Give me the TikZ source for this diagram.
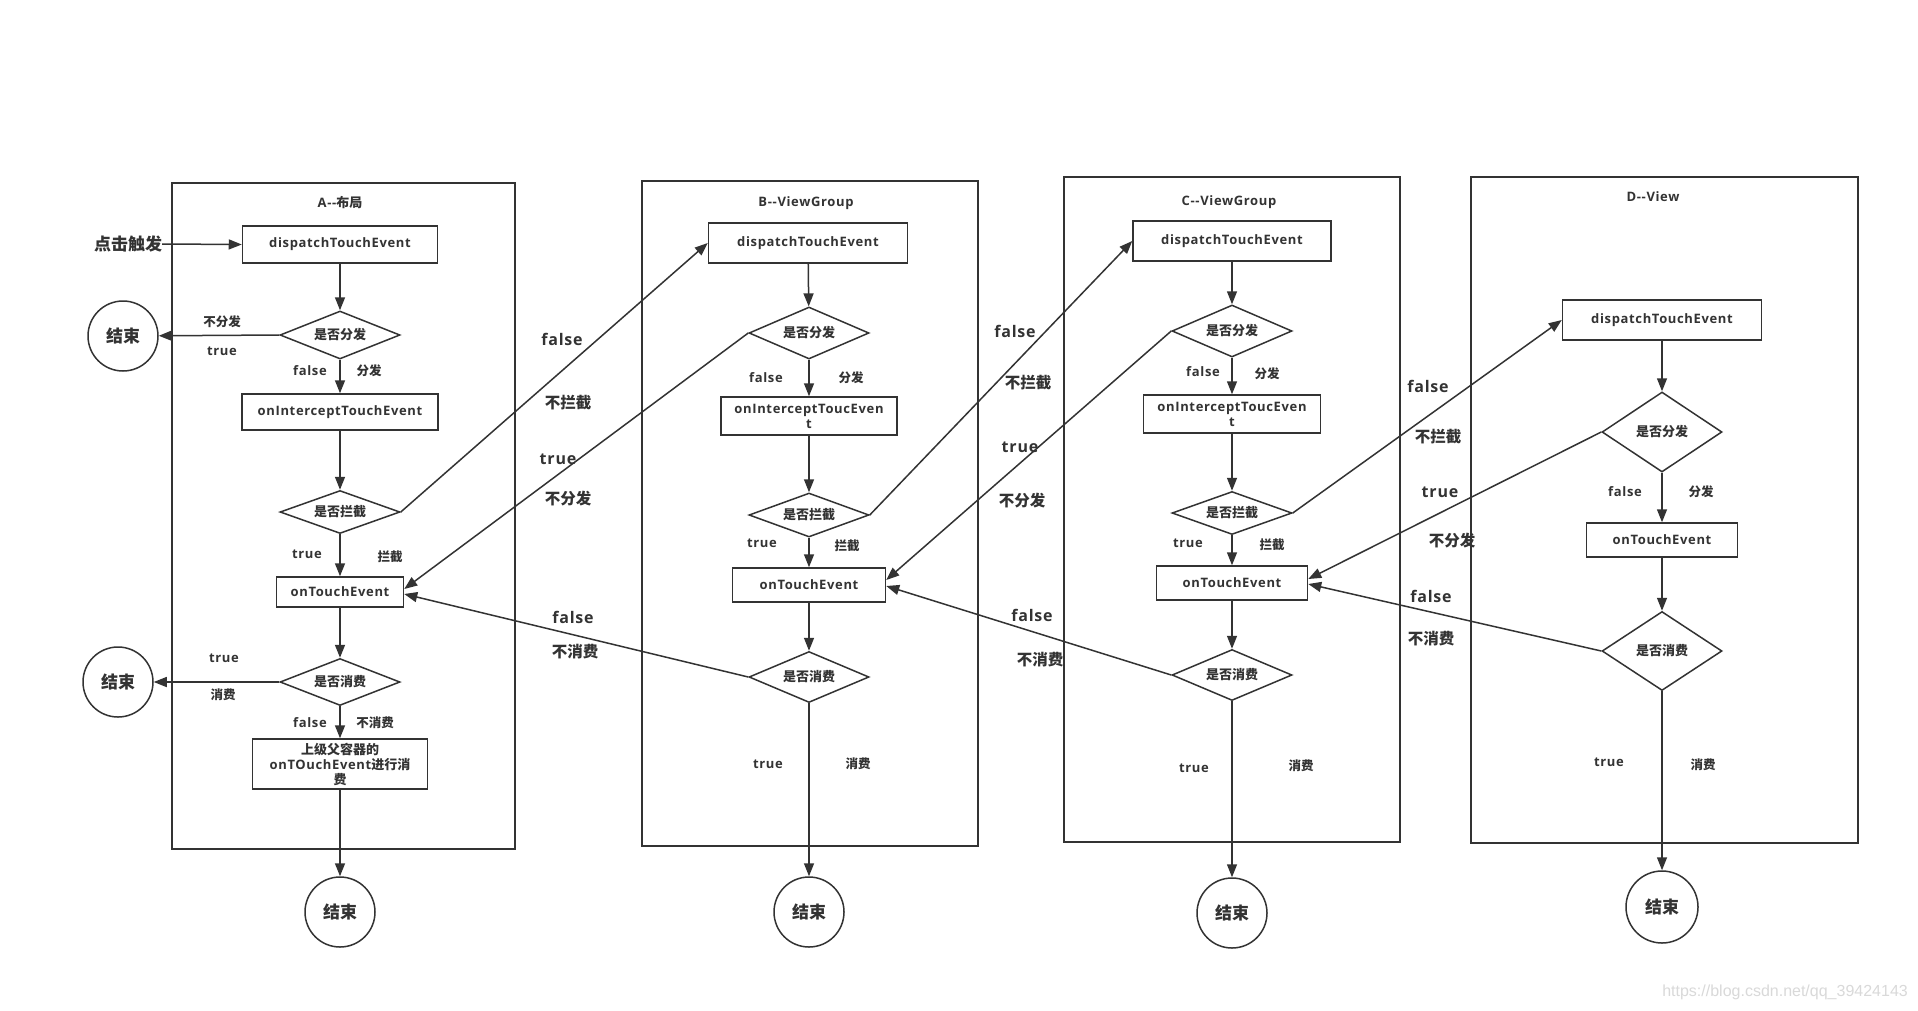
\documentclass[tikz,border=0pt]{standalone}
\usepackage{fontspec}
\setmainfont{Open Sans}[LetterSpace=5]
\newfontfamily\cjk{Noto Sans CJK SC}
\newfontfamily\wmfont{Liberation Sans}
\usetikzlibrary{shapes.geometric,arrows.meta}
\definecolor{ink}{HTML}{333333}
\begin{document}
\begin{tikzpicture}[x=1pt,y=-1pt,
 every node/.style={text=ink},
 flow/.style={draw=ink, line width=1.5pt, -{Triangle[length=13pt,width=10pt]}},
 bx/.style={draw=ink, line width=1.5pt, rectangle, inner sep=0pt, align=center, font=\bfseries\fontsize{13}{15}\selectfont},
 dia/.style={draw=ink, line width=1.5pt, diamond, aspect=2.5, inner sep=0pt, minimum width=120pt, font=\cjk\bfseries\fontsize{13}{15}\selectfont},
 endc/.style={draw=ink, line width=1.5pt, circle, minimum size=70pt, inner sep=0pt, font=\cjk\bfseries\fontsize{17}{20}\selectfont},
 cont/.style={draw=ink, line width=1.5pt, rectangle, inner sep=0pt},
 lt/.style={font=\bfseries\fontsize{13}{16}\selectfont, inner sep=0pt},
 lc/.style={font=\cjk\bfseries\fontsize{12.5}{15}\selectfont, inner sep=0pt},
 bt/.style={font=\bfseries\fontsize{16}{19}\selectfont, inner sep=0pt},
 bc/.style={font=\cjk\bfseries\fontsize{15.5}{18}\selectfont, inner sep=0pt}
]
\useasboundingbox[fill=white] (0,0) rectangle (1918,1010);

% ---------- A ----------
\node[cont, minimum width=343pt, minimum height=666pt] (Abox) at (343.5,516) {};
\node[lt] (Atitle) at (340,203) {A-{}-{\cjk 布局}};
\node[bx, minimum width=195pt, minimum height=37pt] (Adisp) at (340,244.5) {dispatchTouchEvent};
\node[dia, minimum height=48pt] (Adist) at (340,335) {是否分发};
\node[bx, minimum width=196pt, minimum height=36pt] (Aint) at (340,412) {onInterceptTouchEvent};
\node[dia, minimum height=43pt] (Aic) at (340,512) {是否拦截};
\node[bx, minimum width=127pt, minimum height=30pt] (Aote) at (340,592) {onTouchEvent};
\node[dia, minimum height=47pt] (Acon) at (340,682) {是否消费};
\node[bx, minimum width=175pt, minimum height=50pt] (Apar) at (340,764) {{\cjk 上级父容器的}\\onTOuchEvent{\cjk 进行消}\\{\cjk 费}};
\node[endc] (Aend) at (340,912) {结束};
\node[endc] (AendT) at (123,336) {结束};
\node[endc] (AendC) at (118,682) {结束};
\node[font=\cjk\bfseries\fontsize{17}{20}\selectfont, inner sep=0pt] (click) at (128,244) {点击触发};

\draw[flow] (click.east) -- (Adisp.west);
\draw[flow] (Adisp) -- (Adist);
\draw[flow] (Adist) -- (Aint);
\draw[flow] (Aint) -- (Aic);
\draw[flow] (Aic) -- (Aote);
\draw[flow] (Aote) -- (Acon);
\draw[flow] (Acon) -- (Apar);
\draw[flow] (Apar) -- (Aend);
\draw[flow] (Adist.west) -- (AendT);
\draw[flow] (Acon.west) -- (AendC);

\node[lc] at (222,322) {不分发};
\node[lt] at (222,351) {true};
\node[lt] at (310,371) {false};
\node[lc] at (369,371) {分发};
\node[lt] at (307,554) {true};
\node[lc] at (390,557) {拦截};
\node[lt] at (224,658) {true};
\node[lc] at (223,695) {消费};
\node[lt] at (310,723) {false};
\node[lc] at (375,723) {不消费};

% ---------- B ----------
\node[cont, minimum width=336pt, minimum height=665pt] (Bbox) at (810,513.5) {};
\node[lt] (Btitle) at (806,203) {B-{}-ViewGroup};
\node[bx, minimum width=199pt, minimum height=40pt] (Bdisp) at (808,243) {dispatchTouchEvent};
\node[dia, minimum height=52pt] (Bdist) at (809,333) {是否分发};
\node[bx, minimum width=176pt, minimum height=38pt] (Bint) at (809,416) {onInterceptToucEven\\t};
\node[dia, minimum height=44pt] (Bic) at (809,515) {是否拦截};
\node[bx, minimum width=153pt, minimum height=34pt] (Bote) at (809,585) {onTouchEvent};
\node[dia, minimum height=51pt] (Bcon) at (809,677) {是否消费};
\node[endc] (Bend) at (809,912) {结束};

\draw[flow] (Bdisp) -- (Bdist);
\draw[flow] (Bdist) -- (Bint);
\draw[flow] (Bint) -- (Bic);
\draw[flow] (Bic) -- (Bote);
\draw[flow] (Bote) -- (Bcon);
\draw[flow] (Bcon) -- (Bend);

\node[lt] at (766,378) {false};
\node[lc] at (851,378) {分发};
\node[lt] at (762,543) {true};
\node[lc] at (847,546) {拦截};
\node[lt] at (768,764) {true};
\node[lc] at (858,764) {消费};

% ---------- C ----------
\node[cont, minimum width=336pt, minimum height=665pt] (Cbox) at (1232,509.5) {};
\node[lt] (Ctitle) at (1229,202) {C-{}-ViewGroup};
\node[bx, minimum width=198pt, minimum height=40pt] (Cdisp) at (1232,241) {dispatchTouchEvent};
\node[dia, minimum height=52pt] (Cdist) at (1232,331) {是否分发};
\node[bx, minimum width=177pt, minimum height=38pt] (Cint) at (1232,414) {onInterceptToucEven\\t};
\node[dia, minimum height=43pt] (Cic) at (1232,513) {是否拦截};
\node[bx, minimum width=151pt, minimum height=34pt] (Cote) at (1232,583) {onTouchEvent};
\node[dia, minimum height=51pt] (Ccon) at (1232,675) {是否消费};
\node[endc] (Cend) at (1232,913) {结束};

\draw[flow] (Cdisp) -- (Cdist);
\draw[flow] (Cdist) -- (Cint);
\draw[flow] (Cint) -- (Cic);
\draw[flow] (Cic) -- (Cote);
\draw[flow] (Cote) -- (Ccon);
\draw[flow] (Ccon) -- (Cend);

\node[lt] at (1203,372) {false};
\node[lc] at (1267,374) {分发};
\node[lt] at (1188,543) {true};
\node[lc] at (1272,545) {拦截};
\node[lt] at (1194,768) {true};
\node[lc] at (1301,766) {消费};

% ---------- D ----------
\node[cont, minimum width=387pt, minimum height=666pt] (Dbox) at (1664.5,510) {};
\node[lt] (Dtitle) at (1653,197) {D-{}-View};
\node[bx, minimum width=199pt, minimum height=40pt] (Ddisp) at (1662,320) {dispatchTouchEvent};
\node[dia, aspect=1.5, minimum height=80pt] (Ddist) at (1662,432) {是否分发};
\node[bx, minimum width=151pt, minimum height=34pt] (Dote) at (1662,540) {onTouchEvent};
\node[dia, aspect=1.5, minimum height=79pt] (Dcon) at (1662,651) {是否消费};
\node[endc, minimum size=72pt] (Dend) at (1662,907) {结束};

\draw[flow] (Ddisp) -- (Ddist);
\draw[flow] (Ddist) -- (Dote);
\draw[flow] (Dote) -- (Dcon);
\draw[flow] (Dcon) -- (Dend);

\node[lt] at (1625,492) {false};
\node[lc] at (1701,492) {分发};
\node[lt] at (1609,762) {true};
\node[lc] at (1703,765) {消费};

% ---------- cross connectors ----------
\draw[flow] (Aic.east) -- (Bdisp.west);
\draw[flow] (Bdist.west) -- ([yshift=3pt]Aote.east);
\draw[flow] (Bcon.west) -- ([yshift=-2pt]Aote.east);
\draw[flow] (Bic.east) -- (Cdisp.west);
\draw[flow] (Cdist.west) -- ([yshift=5pt]Bote.east);
\draw[flow] (Ccon.west) -- ([yshift=-1pt]Bote.east);
\draw[flow] (Cic.east) -- (Ddisp.west);
\draw[flow] (Ddist.west) -- ([yshift=4pt]Cote.east);
\draw[flow] (Dcon.west) -- ([yshift=-1pt]Cote.east);

\node[bt] at (562,339) {false};
\node[bc] at (568,403) {不拦截};
\node[bt] at (558,459) {true};
\node[bc] at (568,499) {不分发};
\node[bt] at (573,617) {false};
\node[bc] at (575,652) {不消费};

\node[bt] at (1015,331) {false};
\node[bc] at (1028,383) {不拦截};
\node[bt] at (1020,447) {true};
\node[bc] at (1022,501) {不分发};
\node[bt] at (1032,615) {false};
\node[bc] at (1040,660) {不消费};

\node[bt] at (1428,386) {false};
\node[bc] at (1438,437) {不拦截};
\node[bt] at (1440,492) {true};
\node[bc] at (1452,541) {不分发};
\node[bt] at (1431,596) {false};
\node[bc] at (1431,639) {不消费};

% watermark
\node[font=\wmfont\fontsize{16}{18}\selectfont, text=black!15, anchor=east, inner sep=0pt] (wm) at (1908,992) {https://blog.csdn.net/qq\_39424143};
\end{tikzpicture}
\end{document}
